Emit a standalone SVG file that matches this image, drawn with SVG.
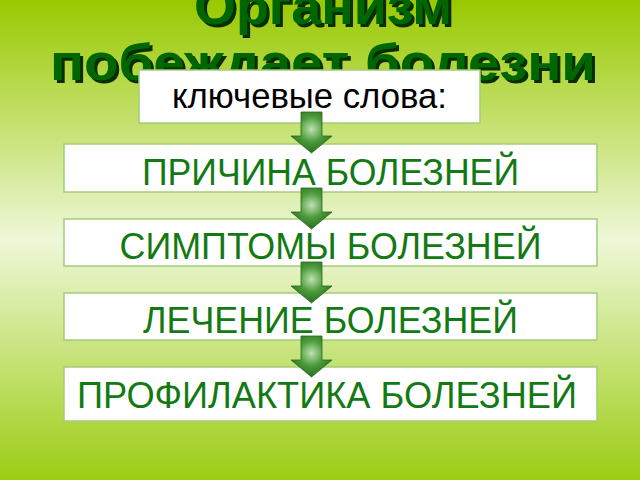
<svg xmlns="http://www.w3.org/2000/svg" width="640" height="480" viewBox="0 0 640 480">
<defs>
<linearGradient id="bg" x1="0" y1="0" x2="0" y2="1">
<stop offset="0" stop-color="#99c900"/>
<stop offset="0.5" stop-color="#eef7d8"/>
<stop offset="1" stop-color="#9ccd14"/>
</linearGradient>
<radialGradient id="ag" cx="0.5" cy="0.42" r="0.55">
<stop offset="0" stop-color="#bfe2b2"/>
<stop offset="0.55" stop-color="#4d9b3c"/>
<stop offset="1" stop-color="#2a7620"/>
</radialGradient>
<path id="arrow" d="M-10.5,0 H10.5 V24 H20.5 L0,41 L-20.5,24 H-10.5 Z"/>
</defs>
<style>
.box{fill:#ffffff;stroke:#a3cc78;stroke-width:1.5}
.t{font-family:"Liberation Sans",Arial,sans-serif;font-size:37px;fill:#137a13;text-anchor:middle}
.k{font-family:"Liberation Sans",Arial,sans-serif;font-size:35px;fill:#000000;text-anchor:middle}
.title{font-family:"Liberation Sans",Arial,sans-serif;font-weight:bold;font-size:52px;fill:#006600;text-anchor:middle}
.sh{fill:#0b2d06}
.arr{fill:url(#ag);stroke:#2a6a20;stroke-width:0.8}
</style>
<rect width="640" height="480" fill="url(#bg)"/>
<g id="title">
<text class="title sh" x="326" y="27" textLength="258" lengthAdjust="spacingAndGlyphs">Организм</text>
<text class="title sh" x="326" y="83" textLength="546" lengthAdjust="spacingAndGlyphs">побеждает болезни</text>
<text class="title" x="323" y="24" textLength="258" lengthAdjust="spacingAndGlyphs">Организм</text>
<text class="title" x="323" y="80" textLength="546" lengthAdjust="spacingAndGlyphs">побеждает болезни</text>
</g>
<g id="n0">
<rect class="box" x="139" y="70" width="341" height="53"/>
<text class="k" x="309.5" y="108" textLength="275" lengthAdjust="spacingAndGlyphs">ключевые слова:</text>
</g>
<g id="n1">
<rect class="box" x="64" y="144" width="533" height="48"/>
<text class="t" x="330.5" y="185" textLength="377" lengthAdjust="spacingAndGlyphs">ПРИЧИНА БОЛЕЗНЕЙ</text>
</g>
<g id="n2">
<rect class="box" x="64" y="219" width="533" height="47"/>
<text class="t" x="330.5" y="259" textLength="422" lengthAdjust="spacingAndGlyphs">СИМПТОМЫ БОЛЕЗНЕЙ</text>
</g>
<g id="n3">
<rect class="box" x="64" y="293" width="533" height="47"/>
<text class="t" x="330.5" y="333" textLength="375" lengthAdjust="spacingAndGlyphs">ЛЕЧЕНИЕ БОЛЕЗНЕЙ</text>
</g>
<g id="n4">
<rect class="box" x="64" y="367" width="533" height="54"/>
<text class="t" x="327" y="408" textLength="500" lengthAdjust="spacingAndGlyphs">ПРОФИЛАКТИКА БОЛЕЗНЕЙ</text>
</g>
<g id="connectors">
<use href="#arrow" class="arr" transform="translate(311.5,112)"/>
<use href="#arrow" class="arr" transform="translate(311.5,188)"/>
<use href="#arrow" class="arr" transform="translate(311.5,262)"/>
<use href="#arrow" class="arr" transform="translate(311.5,336)"/>
</g>
</svg>
